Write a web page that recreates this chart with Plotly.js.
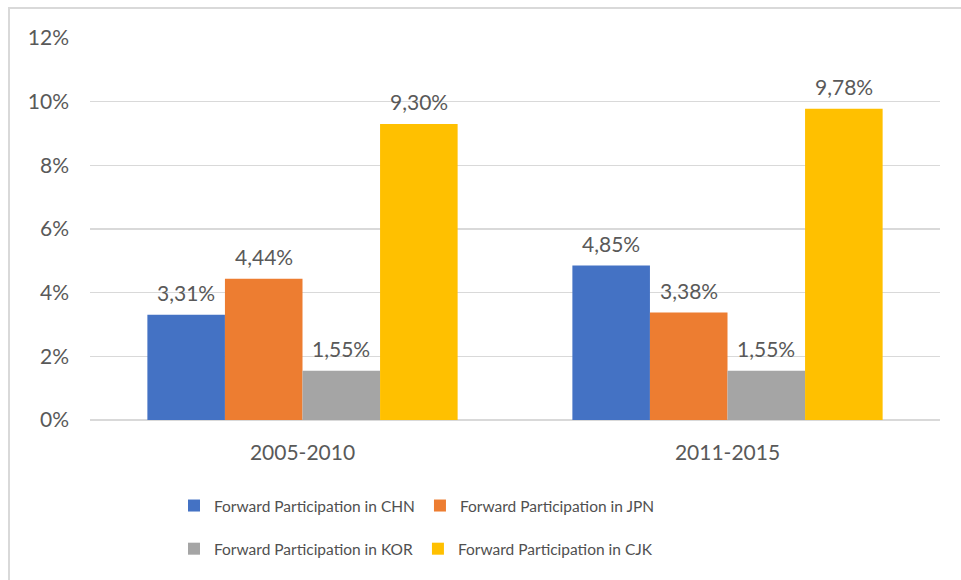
<!DOCTYPE html>
<html>
<head>
<meta charset="utf-8">
<script src="https://cdn.plot.ly/plotly-3.0.1.min.js"></script>
<style>html,body{margin:0;padding:0;background:#fff;}#chart{width:961px;height:580px;}</style>
</head>
<body>
<div id="chart"></div>
<script>
var categories = ["2005-2010", "2011-2015"];
var seriesNames = ["Forward Participation in CHN", "Forward Participation in JPN", "Forward Participation in KOR", "Forward Participation in CJK"];
var chnValues = [3.31, 4.85];
var jpnValues = [4.44, 3.38];
var korValues = [1.55, 1.55];
var cjkValues = [9.30, 9.78];
var seriesColors = ["#4472C4", "#ED7D31", "#A5A5A5", "#FFC000"];
var yTickValues = [0, 2, 4, 6, 8, 10, 12];
var yTickLabels = ["0%", "2%", "4%", "6%", "8%", "10%", "12%"];

function fmt(v) { return v.toFixed(2).replace('.', ',') + '%'; }

var allValues = [chnValues, jpnValues, korValues, cjkValues];
var legendIds = ["legend", "legend", "legend2", "legend2"];
var textColor = "#595959";
var font = "Lato, 'Open Sans', sans-serif";

var W = 961, H = 580;
var margin = {l: 90, r: 21, t: 38, b: 160};
var bargap = 0.27;
var nSeries = allValues.length;
var plotW = W - margin.l - margin.r;
var barPx = plotW / categories.length * (1 - bargap) / nSeries;

var traces = allValues.map(function (vals, i) {
  return {
    type: "bar",
    name: seriesNames[i],
    x: categories,
    y: vals,
    marker: {color: seriesColors[i]},
    legend: legendIds[i],
    hoverinfo: "skip"
  };
});

var annotations = [];
allValues.forEach(function (vals, i) {
  vals.forEach(function (v, j) {
    annotations.push({
      x: categories[j], y: v, xref: "x", yref: "y",
      text: fmt(v), showarrow: false,
      xshift: (i - (nSeries - 1) / 2) * barPx,
      yshift: 22, yanchor: "middle", xanchor: "center",
      font: {family: font, size: 21, color: textColor}
    });
  });
});

var layout = {
  width: W,
  height: H,
  margin: margin,
  paper_bgcolor: "#ffffff",
  plot_bgcolor: "#ffffff",
  barmode: "group",
  bargap: bargap,
  bargroupgap: 0,
  font: {family: font, color: textColor},
  xaxis: {
    type: "category",
    showgrid: false,
    showline: false,
    ticks: "",
    tickfont: {family: font, size: 21, color: textColor},
    ticklabelstandoff: 18
  },
  yaxis: {
    range: [0, 12],
    tickvals: yTickValues,
    ticktext: yTickLabels,
    showgrid: true,
    gridcolor: "#d9d9d9",
    gridwidth: 1.5,
    zeroline: true,
    zerolinecolor: "#d9d9d9",
    zerolinewidth: 1.5,
    showline: false,
    ticks: "",
    tickfont: {family: font, size: 21, color: textColor},
    ticklabelstandoff: 20
  },
  annotations: annotations,
  showlegend: true,
  legend: {
    orientation: "h",
    x: 0.0988, xanchor: "left",
    y: -0.225, yanchor: "middle",
    font: {family: font, size: 15.5, color: "#505050"},
    itemwidth: 30,
    bgcolor: "rgba(0,0,0,0)"
  },
  legend2: {
    orientation: "h",
    x: 0.0988, xanchor: "left",
    y: -0.338, yanchor: "middle",
    font: {family: font, size: 15.5, color: "#505050"},
    itemwidth: 30,
    bgcolor: "rgba(0,0,0,0)"
  },
  shapes: [{
    type: "rect",
    xref: "paper", yref: "paper",
    x0: -0.0953, x1: 1.03,
    y0: -0.45, y1: 1.0785,
    line: {color: "#d9d9d9", width: 2},
    fillcolor: "rgba(0,0,0,0)",
    layer: "below"
  }]
};

Plotly.newPlot("chart", traces, layout, {displayModeBar: false, staticPlot: true});
</script>
</body>
</html>
